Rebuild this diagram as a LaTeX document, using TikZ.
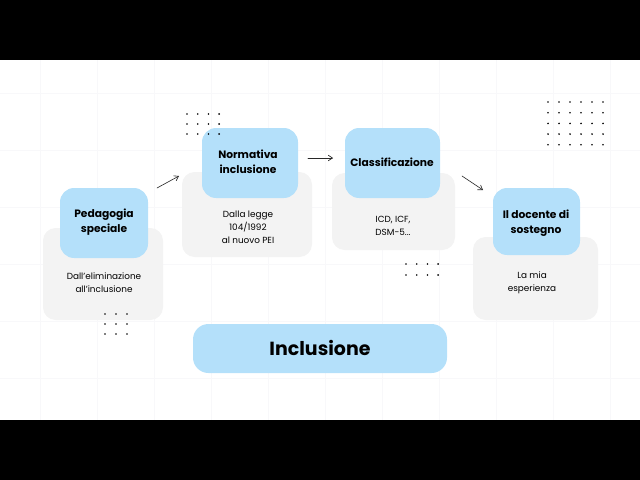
\documentclass[tikz,border=0pt]{standalone}
\usepackage{fontspec}
\setmainfont{Poppins}
\usetikzlibrary{arrows.meta,fit}
\definecolor{celeste}{RGB}{180,224,250}
\definecolor{grigio}{RGB}{243,243,243}
\definecolor{griglia}{RGB}{248,248,250}
\definecolor{scuro}{RGB}{40,40,40}
\tikzstyle{every node}=[align=center,inner sep=0pt]
\tikzstyle{scheda}=[fill=grigio,rounded corners=9]
\tikzstyle{etichetta}=[fill=celeste,rounded corners=10,font=\fontsize{7.6}{10.5}\selectfont\bfseries]
\tikzstyle{nota}=[font=\fontsize{6.3}{9.2}\selectfont]

\begin{document}
\begin{tikzpicture}[line cap=round,line join=round,>={Straight Barb[length=3pt,width=4pt]},x=0.025cm,y=-0.025cm]
    \useasboundingbox (0,0) rectangle (640,480);
    % griglia di sfondo
    \foreach \gx in {40,97,154,211,268,325,382,439,496,553,610}
        \draw[griglia,line width=0.5pt] (\gx,60) -- (\gx,420);
    \foreach \gy in {93,150,207,264,321,378}
        \draw[griglia,line width=0.5pt] (0,\gy) -- (640,\gy);
    % bande nere
    \fill[black] (0,0) rectangle (640,60);
    \fill[black] (0,420) rectangle (640,480);
    % schede grigie
    \node[scheda,fit={(43,228) (163,320)}] (s1) {};
    \node[scheda,fit={(182,172) (312,257)}] (s2) {};
    \node[scheda,fit={(332,173) (455,250)}] (s3) {};
    \node[scheda,fit={(473,237) (598,320)}] (s4) {};
    % etichette azzurre
    \node[etichetta,fit={(60,188) (148,258)}] (pedagogia) {};
    \node[etichetta,fit={(202,128) (298,198)}] (normativa) {};
    \node[etichetta,fit={(345,128) (440,198)}] (classif) {};
    \node[etichetta,fit={(493,188) (580,255)}] (docente) {};
    \node[etichetta] (tpedagogia) at (104,222) {Pedagogia\\speciale};
    \node[etichetta] (tnormativa) at (248,162) {Normativa\\inclusione};
    \node[etichetta] (tclassif) at (392,162) {Classificazione};
    \node[etichetta] (tdocente) at (536,223) {Il docente di\\sostegno};
    % testi
    \node[nota] (n1) at (104,283) {Dall'eliminazione\\all'inclusione};
    \node[nota] (n2) at (248,227) {Dalla legge\\104/1992\\al nuovo PEI};
    \node[nota] (n3) at (393,226) {ICD, ICF,\\DSM-5...};
    \node[nota] (n4) at (532,283) {La mia\\esperienza};
    % titolo in basso
    \node[etichetta,rounded corners=11,fit={(193,324) (447,373)}] (inclusione) {};
    \node[font=\fontsize{13.5}{16}\selectfont\bfseries] (tinclusione) at (320,348) {Inclusione};
    % frecce
    \coordinate (f1a) at (157,188);
    \coordinate (f1b) at (179,176);
    \coordinate (f2a) at (308,158);
    \coordinate (f2b) at (333,158);
    \coordinate (f3a) at (462,176);
    \coordinate (f3b) at (483,190);
    \draw[->,scuro,line width=0.45pt] (f1a) -- (f1b);
    \draw[->,scuro,line width=0.45pt] (f2a) -- (f2b);
    \draw[->,scuro,line width=0.45pt] (f3a) -- (f3b);
    % puntini
    \foreach \i in {0,1,2}
        \foreach \j in {0,1,2}
            \fill (105+11*\i,314+10*\j) circle (0.9);
    \foreach \i in {0,...,3}
        \foreach \j in {0,1,2}
            \fill (187+10.7*\i,114+10*\j) circle (0.9);
    \foreach \i in {0,...,3}
        \foreach \j in {0,1}
            \fill (406+10.7*\i,264+11*\j) circle (0.9);
    \foreach \i in {0,...,5}
        \foreach \j in {0,...,4}
            \fill (548+11*\i,102+10.7*\j) circle (0.9);
\end{tikzpicture}
\end{document}
